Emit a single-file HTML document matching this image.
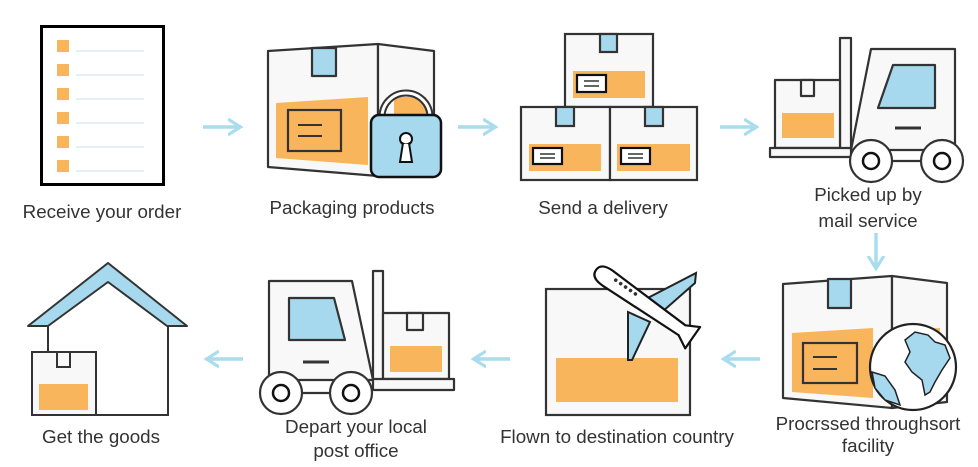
<!DOCTYPE html>
<html><head><meta charset="utf-8"><style>
html,body{margin:0;padding:0;background:#fff;}
svg{display:block;}
text{font-family:"Liberation Sans",Arial,sans-serif;font-size:18.8px;fill:#333;text-anchor:middle;}
</style></head><body>
<svg width="978" height="467" viewBox="0 0 978 467" xmlns="http://www.w3.org/2000/svg">
<defs>
<marker id="ah" viewBox="0 0 10 10" refX="7" refY="5" markerWidth="4.5" markerHeight="5.5" orient="auto" markerUnits="strokeWidth">
<path d="M0,0 L8,5 L0,10" fill="none" stroke="#a8dcee" stroke-width="2"/>
</marker>
</defs>
<g stroke="#a8dcee" stroke-width="3.5" fill="none" marker-end="url(#ah)">
<line x1="203" y1="127" x2="239" y2="127"/>
<line x1="458" y1="127" x2="494" y2="127"/>
<line x1="720" y1="127" x2="755" y2="127"/>
<line x1="876" y1="233" x2="876" y2="267"/>
<line x1="243" y1="359" x2="208" y2="359"/>
<line x1="510" y1="359" x2="475" y2="359"/>
<line x1="760" y1="359" x2="725" y2="359"/>
</g>

<!-- 1 document -->
<rect x="41.5" y="26.5" width="122" height="158" fill="#fff" stroke="#000" stroke-width="3"/>
<g fill="#f8b55c">
<rect x="57" y="40" width="12" height="12"/><rect x="57" y="64" width="12" height="12"/><rect x="57" y="88" width="12" height="12"/>
<rect x="57" y="112" width="12" height="12"/><rect x="57" y="136" width="12" height="12"/><rect x="57" y="160" width="12" height="12"/>
</g>
<g stroke="#dcecf5" stroke-width="1.5">
<line x1="76" y1="51" x2="144" y2="51"/><line x1="76" y1="75" x2="144" y2="75"/><line x1="76" y1="99" x2="144" y2="99"/>
<line x1="76" y1="123" x2="144" y2="123"/><line x1="76" y1="147" x2="144" y2="147"/><line x1="76" y1="171" x2="144" y2="171"/>
</g>
<text x="102" y="218">Receive your order</text>

<!-- 2 packaging -->
<g stroke="#333" stroke-width="2.2" stroke-linejoin="round">
<polygon points="268,51 378,44 378,176 268,167" fill="#f8f8f8"/>
<polygon points="378,44 434,51 434,170 378,176" fill="#f8f8f8"/>
<rect x="312" y="48" width="24" height="28" fill="#a6d8ee"/>
</g>
<polygon points="276,103 368,97 368,165 276,158" fill="#f8b55c"/>
<rect x="288" y="110" width="53" height="41" fill="none" stroke="#333" stroke-width="2.2"/>
<line x1="298" y1="125" x2="322" y2="125" stroke="#333" stroke-width="2"/>
<line x1="298" y1="136" x2="322" y2="136" stroke="#333" stroke-width="2"/>
<rect x="394" y="97" width="32" height="20" fill="#f8b55c"/>
<path d="M382,117 A24,24 0 0 1 430,117" fill="none" stroke="#333" stroke-width="7"/>
<path d="M382,117 A24,24 0 0 1 430,117" fill="none" stroke="#fff" stroke-width="3"/>
<rect x="371" y="115" width="70" height="62" rx="8" fill="#a6d8ee" stroke="#111" stroke-width="2.5"/>
<circle cx="406" cy="139" r="6" fill="#fff" stroke="#111" stroke-width="2"/>
<polygon points="403,143 409,143 412,162 400,162" fill="#fff" stroke="#111" stroke-width="2"/>
<circle cx="406" cy="139" r="4.5" fill="#fff"/>
<text x="352" y="214">Packaging products</text>

<!-- 3 send -->
<g stroke="#333" stroke-width="2.2">
<rect x="565" y="34" width="88" height="73" fill="#f8f8f8"/>
<rect x="521" y="107" width="89" height="73" fill="#f8f8f8"/>
<rect x="610" y="107" width="87" height="73" fill="#f8f8f8"/>
<rect x="600" y="34" width="17" height="18" fill="#a6d8ee"/>
<rect x="556" y="107" width="18" height="19" fill="#a6d8ee"/>
<rect x="645" y="107" width="18" height="19" fill="#a6d8ee"/>
</g>
<rect x="573" y="71" width="72" height="27" fill="#f8b55c"/>
<rect x="529" y="144" width="72" height="27" fill="#f8b55c"/>
<rect x="617" y="144" width="73" height="27" fill="#f8b55c"/>
<g fill="#fff" stroke="#111" stroke-width="2.2">
<rect x="577" y="75" width="29" height="17"/><rect x="533" y="148" width="29" height="16"/><rect x="621" y="148" width="29" height="16"/>
</g>
<g stroke="#333" stroke-width="1.5">
<line x1="584" y1="81" x2="599" y2="81"/><line x1="584" y1="86" x2="599" y2="86"/>
<line x1="540" y1="154" x2="555" y2="154"/><line x1="540" y1="158" x2="555" y2="158"/>
<line x1="628" y1="154" x2="643" y2="154"/><line x1="628" y1="158" x2="643" y2="158"/>
</g>
<text x="603" y="214">Send a delivery</text>

<!-- 4 forklift -->
<g stroke="#333" stroke-width="2.2" stroke-linejoin="round">
<rect x="840" y="38" width="11" height="117" fill="#f8f8f8"/>
<rect x="775" y="80" width="65" height="68" fill="#f8f8f8"/>
<rect x="801" y="80" width="13" height="16" fill="#f8f8f8"/>
<rect x="770" y="148" width="81" height="9" fill="#f8f8f8"/>
<polygon points="871,49 955,49 955,150 851,150" fill="#f8f8f8"/>
<polygon points="893,65 935,65 935,108 878,108" fill="#a6d8ee"/>
<line x1="871" y1="161" x2="929" y2="161"/>
<circle cx="871" cy="161" r="21" fill="#fff"/><circle cx="942" cy="161" r="21" fill="#fff"/>
</g>
<rect x="782" y="113" width="52" height="25" fill="#f8b55c"/>
<line x1="895" y1="128" x2="921" y2="128" stroke="#333" stroke-width="3"/>
<circle cx="871" cy="161" r="8" fill="#fff" stroke="#111" stroke-width="2.5"/>
<circle cx="942" cy="161" r="8" fill="#fff" stroke="#111" stroke-width="2.5"/>
<text x="868" y="201">Picked up by</text>
<text x="868" y="227">mail service</text>

<!-- 5 processed -->
<g stroke="#333" stroke-width="2.2" stroke-linejoin="round">
<polygon points="783,284 892,276 892,408 783,398" fill="#f8f8f8"/>
<polygon points="892,276 947,283 947,402 892,408" fill="#f8f8f8"/>
<rect x="828" y="279" width="23" height="29" fill="#a6d8ee"/>
</g>
<polygon points="792,333 873,328 873,398 792,392" fill="#f8b55c"/>
<polygon points="892,330 940,328 940,360 892,360" fill="#f8b55c"/>
<rect x="803" y="343" width="54" height="40" fill="none" stroke="#333" stroke-width="2.2"/>
<line x1="813" y1="357" x2="837" y2="357" stroke="#333" stroke-width="2"/>
<line x1="813" y1="369" x2="837" y2="369" stroke="#333" stroke-width="2"/>
<circle cx="913" cy="367" r="43" fill="#fff" stroke="#222" stroke-width="2.2"/>
<path d="M905,340 L915,332 L928,335 L935,342 L945,345 L950,358 L942,370 L935,382 L930,392 L925,395 L922,380 L912,372 L905,362 L910,352 Z" fill="#a6d8ee" stroke="#222" stroke-width="1.5"/>
<path d="M872,372 L885,376 L895,390 L900,405 L885,400 L875,388 Z" fill="#a6d8ee" stroke="#222" stroke-width="1.5"/>
<text x="868" y="430">Procrssed throughsort</text>
<text x="868" y="452">facility</text>

<!-- 6 flown -->
<rect x="546" y="289" width="144" height="126" fill="#f8f8f8" stroke="#333" stroke-width="2.2"/>
<rect x="556" y="358" width="122" height="44" fill="#f8b55c"/>
<polygon points="640,302 696,273 695,283 662,312" fill="#a6d8ee" stroke="#222" stroke-width="2"/>
<polygon points="628,312 650,322 632,360 628,360" fill="#a6d8ee" stroke="#222" stroke-width="2"/>
<g transform="translate(596,270) rotate(35)">
<path d="M0,0 C0,-8 8,-9 14,-9 L105,-6 L118,-13 L118,13 L105,6 L14,9 C8,9 0,8 0,0 Z" fill="#fff" stroke="#111" stroke-width="2.2" stroke-linejoin="round"/>
<circle cx="22" cy="-3" r="1.8" fill="#333"/><circle cx="28" cy="-3" r="1.8" fill="#333"/><circle cx="34" cy="-3" r="1.8" fill="#333"/><circle cx="40" cy="-3" r="1.8" fill="#333"/><circle cx="46" cy="-3" r="1.8" fill="#333"/>
</g>
<text x="617" y="443">Flown to destination country</text>

<!-- 7 depart forklift -->
<g stroke="#333" stroke-width="2.2" stroke-linejoin="round">
<rect x="373" y="271" width="10" height="109" fill="#f8f8f8"/>
<rect x="383" y="313" width="66" height="66" fill="#f8f8f8"/>
<rect x="407" y="313" width="16" height="17" fill="#f8f8f8"/>
<rect x="373" y="379" width="81" height="11" fill="#f8f8f8"/>
<polygon points="269,281 352,281 373,380 269,380" fill="#f8f8f8"/>
<polygon points="289,298 334,298 345,340 289,340" fill="#a6d8ee"/>
<line x1="281" y1="393" x2="351" y2="393"/>
<circle cx="281" cy="393" r="21" fill="#fff"/><circle cx="351" cy="393" r="21" fill="#fff"/>
</g>
<rect x="390" y="346" width="52" height="26" fill="#f8b55c"/>
<line x1="303" y1="362" x2="329" y2="362" stroke="#333" stroke-width="3"/>
<circle cx="281" cy="393" r="8" fill="#fff" stroke="#111" stroke-width="2.5"/>
<circle cx="351" cy="393" r="8" fill="#fff" stroke="#111" stroke-width="2.5"/>
<text x="356" y="433">Depart your local</text>
<text x="356" y="457">post office</text>

<!-- 8 house -->
<polygon points="28,326 108,263 187,326 167,326 108,282 48,326" fill="#a6d8ee" stroke="#333" stroke-width="2" stroke-linejoin="round"/>
<polyline points="48,326 48,352" fill="none" stroke="#333" stroke-width="2"/>
<polyline points="96,415 168,415 168,326" fill="none" stroke="#333" stroke-width="2"/>
<rect x="32" y="352" width="64" height="63" fill="#f8f8f8" stroke="#333" stroke-width="2"/>
<rect x="57" y="352" width="13" height="15" fill="#f8f8f8" stroke="#333" stroke-width="2"/>
<rect x="39" y="384" width="49" height="26" fill="#f8b55c"/>
<text x="101" y="443">Get the goods</text>
</svg>
</body></html>
